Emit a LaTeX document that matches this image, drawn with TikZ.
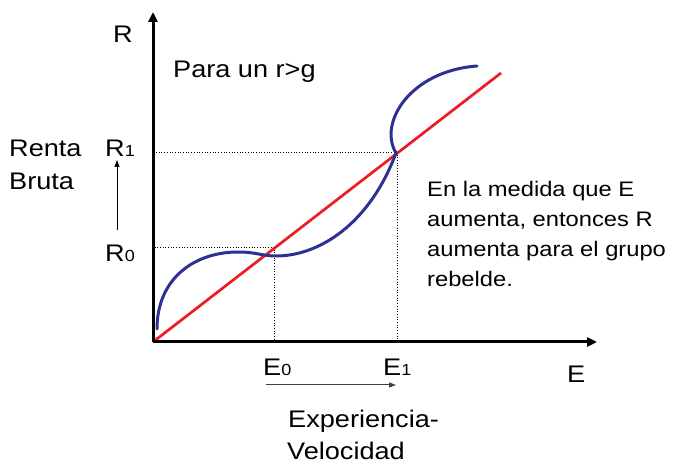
\documentclass[tikz,border=0pt]{standalone}
\usepackage{fontspec}
\setmainfont{Liberation Sans}[FakeStretch=1.13]
\usetikzlibrary{arrows.meta}
\definecolor{curveblue}{RGB}{46,49,146}
\definecolor{linered}{RGB}{237,28,36}
\begin{document}
\begin{tikzpicture}[x=1pt,y=1pt,
  lbl/.style={font=\fontsize{24}{28}\selectfont, inner sep=0pt, anchor=base west},
  blk/.style={font=\fontsize{21}{30}\selectfont, inner sep=0pt, anchor=north west, align=left},
  axis/.style={line width=3pt, -{Triangle[length=10pt,width=9pt]}},
  guide/.style={dotted, line width=0.7pt},
  thinarrow/.style={line width=1pt, -{Triangle[length=7pt,width=5pt]}},
  bluecurve/.style={curveblue, line width=3pt, line cap=round},
]
\newcommand{\sbs}[1]{{\fontsize{16}{16}\selectfont #1}}
\useasboundingbox (0,0) rectangle (674,463);
\coordinate (O) at (153,121);
\coordinate (ytop) at (153,451);
\coordinate (xend) at (597,121);
\coordinate (redend) at (501,390);
\coordinate (P0) at (274,216);
\coordinate (P1) at (397,311);
% guides
\draw[guide] (P0) -- (O |- P0);
\draw[guide] (P0) -- (P0 |- O);
\draw[guide] (P1) -- (O |- P1);
\draw[guide] (P1) -- (P1 |- O);
% red line
\draw[linered, line width=2.7pt] (O) -- (redend);
% blue curve
\coordinate (c0) at (157,134);
\coordinate (c1) at (238,211);
\coordinate (c2) at (276,207);
\coordinate (c3) at (396,310);
\coordinate (c4) at (477,397);
\draw[bluecurve] (c0) .. controls (157,185) and (195,211) .. (c1)
  .. controls (256,211) and (262,207) .. (c2)
  .. controls (320,207) and (370,240) .. (c3)
  .. controls (378,340) and (410,392) .. (c4);
% axes
\draw[axis] (O) -- (ytop);
\draw[axis] (O) -- (xend);
% labels
\node[lbl] (lR) at (113,420) {R};
\node[lbl] (lpara) at (173,385) {Para un r>g};
\node[lbl] (lrenta) at (9,306) {Renta};
\node[lbl] (lbruta) at (9,273) {Bruta};
\node[lbl] (lR1) at (105,306) {R\sbs{1}};
\node[lbl] (lR0) at (105,201) {R\sbs{0}};
\node[lbl] (lE0) at (263,88) {E\sbs{0}};
\node[lbl] (lE1) at (383,88) {E\sbs{1}};
\node[lbl] (lE) at (567,81) {E};
\node[lbl] (lexp) at (288,36) {Experiencia-};
\node[lbl] (lvel) at (287,4) {Velocidad};
\node[blk] (ltext) at (427,282) {En la medida que E\\aumenta, entonces R\\aumenta para el grupo\\rebelde.};
% small arrows
\coordinate (va) at (117,233);
\coordinate (vb) at (117,303);
\coordinate (ha) at (266,78);
\coordinate (hb) at (396,78);
\draw[thinarrow] (va) -- (vb);
\draw[thinarrow, black!75] (ha) -- (hb);
\end{tikzpicture}
\end{document}
